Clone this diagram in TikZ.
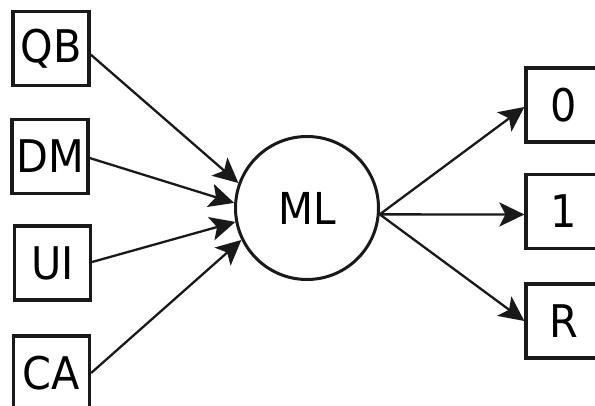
\documentclass[tikz,border=0pt]{standalone}
\usepackage{fontspec}
\setmainfont{DejaVu Sans}
\usetikzlibrary{arrows.meta}
\newcommand{\bt}[1]{\scalebox{0.92}[1]{#1}}
\begin{document}
\begin{tikzpicture}[x=1pt,y=-1pt,
  box/.style={draw=black!90,line width=3.2pt,minimum width=76pt,minimum height=74pt,inner sep=0pt,font=\fontsize{45}{45}\selectfont},
  circ/.style={draw=black!90,circle,line width=3pt,minimum size=143pt,inner sep=0pt,font=\fontsize{44}{44}\selectfont},
  arr/.style={line width=2.3pt,draw=black!90,-{Stealth[length=25pt,width=24pt,inset=6pt]}}]
\useasboundingbox (0,0) rectangle (595,406);
\clip (0,0) rectangle (595,406);
\fill[white] (0,0) rectangle (595,406);
\node[box] (qb) at (51,48.5) {\bt{QB}};
\node[box] (dm) at (50,156.5) {\bt{DM}};
\node[box] (ui) at (52.5,263) {\bt{UI}};
\node[box] (ca) at (51.5,373) {\bt{CA}};
\node[circ] (ml) at (307,208) {\bt{ML}};
\node[box] (o0) at (564,105) {\bt{0}};
\node[box] (o1) at (564,211.5) {\bt{1}};
\node[box] (oR) at (564,321) {\bt{R}};
\draw[arr] ([yshift=-6pt]qb.east) -- (ml.160);
\draw[arr] ([yshift=-1.5pt]dm.east) -- (ml.176);
\draw[arr] ([yshift=1pt]ui.east) -- (ml.191);
\draw[arr] (ca.east) -- (ml.206);
\draw[arr] (ml.-5) -- ([yshift=-2pt]o0.west);
\draw[arr] (ml.-5) -- ([yshift=-3pt]o1.west);
\draw[arr] (ml.-5) -- (oR.west);
\end{tikzpicture}
\end{document}
